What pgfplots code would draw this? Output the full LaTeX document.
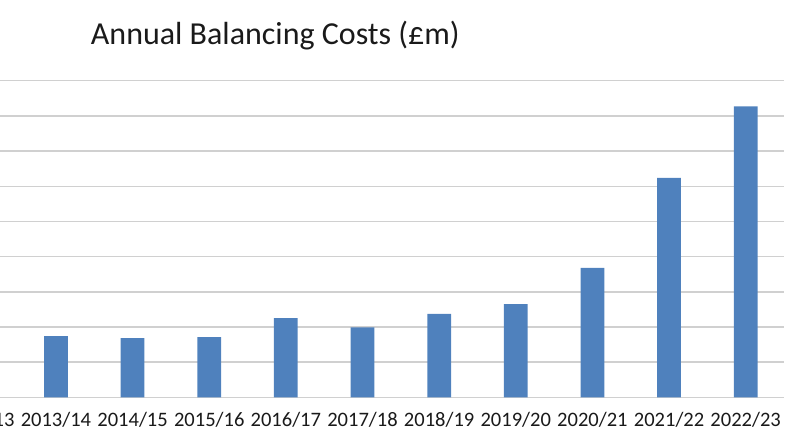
\documentclass[border=0pt]{standalone}
\usepackage{pgfplots}
\pgfplotsset{compat=1.18}
\usepackage{fontspec}
\setmainfont{Carlito}
\definecolor{barblue}{HTML}{4F81BD}
\definecolor{gridgray}{HTML}{D0D0D0}
\definecolor{txt}{HTML}{1A1A1A}
\begin{document}
\begin{tikzpicture}
\begin{axis}[
  at={(-44.25pt,37.27pt)}, anchor=south west,
  scale only axis,
  width=632.25pt, height=237.45pt,
  xmin=-0.5, xmax=10.5,
  ymin=0, ymax=4500,
  ytick={0,500,...,4500},
  yticklabels={},
  xtick={0,...,10},
  xticklabels={2012/13,2013/14,2014/15,2015/16,2016/17,2017/18,2018/19,2019/20,2020/21,2021/22,2022/23},
  xticklabel style={font=\fontsize{15.4pt}{17pt}\selectfont, text=txt, anchor=base, yshift=-22pt, inner sep=0pt},
  major tick length=0pt,
  axis line style={draw=none},
  ymajorgrids,
  grid style={gridgray, line width=1.1pt},
  /pgf/number format/assume math mode=true,
  ybar, bar width=17.8pt,
  clip=false,
]
\addplot[fill=barblue, draw=none] coordinates {
  (1,870) (2,840) (3,855) (4,1125) (5,995) (6,1185) (7,1325) (8,1840) (9,3120) (10,4135)
};
\end{axis}
\node[anchor=base west, inner sep=0pt, text=txt, font=\fontsize{24pt}{27pt}\selectfont] at (68pt,301.5pt) {Annual Balancing Costs (£m)};
\pgfresetboundingbox
\path[use as bounding box] (0,0) rectangle (595.5pt,335.25pt);
\end{tikzpicture}
\end{document}
